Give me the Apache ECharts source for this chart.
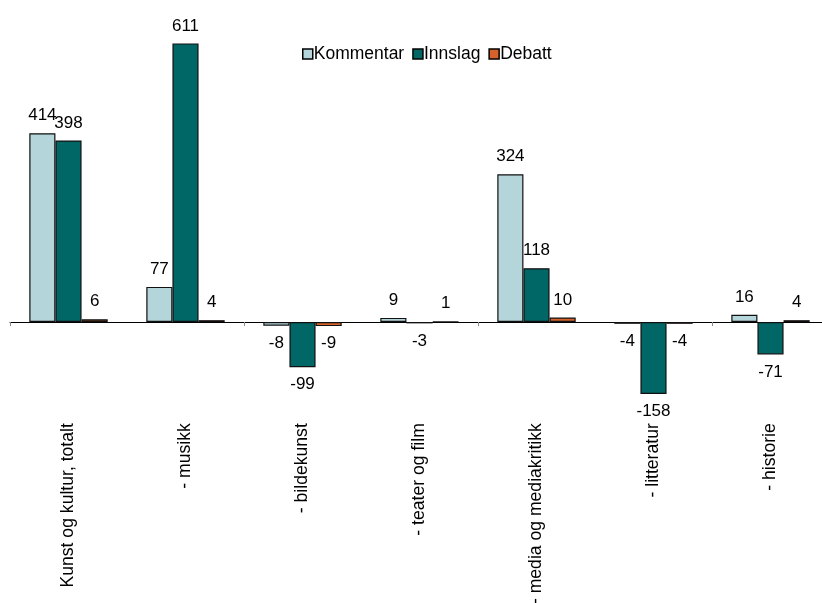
<!DOCTYPE html>
<html>
<head>
<meta charset="utf-8">
<script src="https://cdn.jsdelivr.net/npm/echarts@6/dist/echarts.min.js"></script>
<style>
html,body{margin:0;padding:0;background:#fff;}
#chart{width:822px;height:603px;}
</style>
</head>
<body>
<div id="chart"></div>
<script>
const categories = ["Kunst og kultur, totalt", "- musikk", "- bildekunst", "- teater og film", "- media og mediakritikk", "- litteratur", "- historie"];
const seriesNames = ["Kommentar", "Innslag", "Debatt"];
const kommentar = [414, 77, -8, 9, 324, -4, 16];
const innslag = [398, 611, -99, -3, 118, -158, -71];
const debatt = [6, 4, -9, 1, 10, -4, 4];
const colors = ["#B4D5D9", "#006666", "#D4622A"];

const FONT = "Liberation Sans, Arial, sans-serif";

function mkData(vals) {
  return vals.map(v => ({
    value: v,
    label: { position: v < 0 ? "bottom" : "top" }
  }));
}

const valuesList = [kommentar, innslag, debatt];
const series = seriesNames.map((name, i) => ({
  name: name,
  type: "bar",
  xAxisIndex: 0,
  barGap: "0%",
  barCategoryGap: "33%",
  data: mkData(valuesList[i]),
  itemStyle: { color: colors[i], borderColor: "#111", borderWidth: 1.2 },
  label: {
    show: true,
    distance: 9,
    color: "#000",
    fontSize: 17,
    fontFamily: FONT
  },
  emphasis: { disabled: true }
}));

const chart = echarts.init(document.getElementById("chart"), null, { renderer: "canvas" });
chart.setOption({
  animation: false,
  backgroundColor: "#fff",
  legend: {
    data: seriesNames.map(n => ({ name: n, icon: "rect" })),
    top: 40,
    left: 297,
    itemWidth: 10,
    itemHeight: 10,
    itemGap: 8,
    textStyle: { fontSize: 17.5, fontFamily: FONT, color: "#000", padding: [0, 0, 0, -4] },
    itemStyle: { borderColor: "#000", borderWidth: 1.5 }
  },
  grid: { left: 10, width: 819, top: 2.8, height: 410.4, containLabel: false, outerBoundsMode: "none" },
  xAxis: [
    {
      type: "category",
      data: categories,
      axisLine: { onZero: true, lineStyle: { color: "#000", width: 1 } },
      axisTick: { show: true, length: 4, lineStyle: { color: "#888", width: 1 } },
      axisLabel: { show: false },
      splitLine: { show: false }
    },
    {
      type: "category",
      data: categories,
      position: "bottom",
      axisLine: { show: false, onZero: false },
      axisTick: { show: false },
      axisLabel: { show: true, rotate: 90, margin: 10, fontSize: 17.6, fontFamily: FONT, color: "#000", interval: 0 },
      splitLine: { show: false }
    }
  ],
  yAxis: {
    type: "value",
    min: -200,
    max: 700,
    show: false,
    splitLine: { show: false }
  },
  series: series
});
</script>
</body>
</html>
